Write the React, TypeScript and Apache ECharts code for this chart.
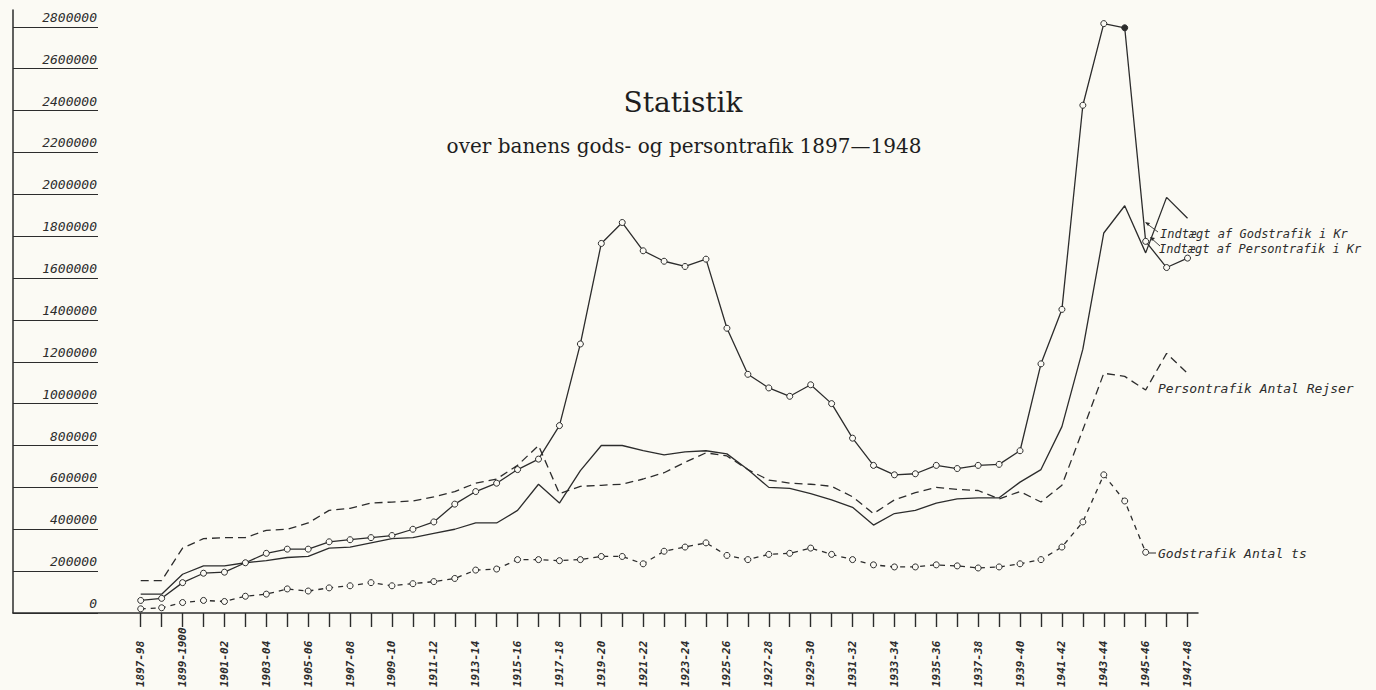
import React, { useEffect, useRef } from "react";
import * as echarts from "echarts";

const categories = [
  "1897-98", "1898-99", "1899-1900", "1900-01", "1901-02", "1902-03", "1903-04", "1904-05",
  "1905-06", "1906-07", "1907-08", "1908-09", "1909-10", "1910-11", "1911-12", "1912-13",
  "1913-14", "1914-15", "1915-16", "1916-17", "1917-18", "1918-19", "1919-20", "1920-21",
  "1921-22", "1922-23", "1923-24", "1924-25", "1925-26", "1926-27", "1927-28", "1928-29",
  "1929-30", "1930-31", "1931-32", "1932-33", "1933-34", "1934-35", "1935-36", "1936-37",
  "1937-38", "1938-39", "1939-40", "1940-41", "1941-42", "1942-43", "1943-44", "1944-45",
  "1945-46", "1946-47", "1947-48",
];

// Indtægt af Godstrafik i Kr (solid line with circles)
const godsKr = [
  60000, 70000, 145000, 190000, 195000, 240000, 285000, 305000, 305000, 340000,
  350000, 360000, 370000, 400000, 435000, 520000, 580000, 620000, 685000, 735000,
  895000, 1285000, 1765000, 1865000, 1730000, 1680000, 1655000, 1690000, 1360000, 1140000,
  1075000, 1035000, 1090000, 1000000, 835000, 705000, 660000, 665000, 705000, 690000,
  705000, 710000, 775000, 1190000, 1450000, 2425000, 2815000, 2795000, 1775000, 1650000,
  1695000,
];

// Indtægt af Persontrafik i Kr (solid line)
const personKr = [
  90000, 90000, 185000, 225000, 225000, 240000, 250000, 265000, 270000, 310000,
  315000, 335000, 355000, 360000, 380000, 400000, 430000, 430000, 490000, 615000,
  525000, 680000, 800000, 800000, 775000, 755000, 770000, 775000, 760000, 685000,
  600000, 595000, 570000, 540000, 505000, 420000, 475000, 490000, 525000, 545000,
  550000, 550000, 625000, 685000, 890000, 1260000, 1815000, 1945000, 1720000, 1985000,
  1885000,
];

// Persontrafik Antal Rejser (dashed line)
const personAntal = [
  155000, 155000, 310000, 355000, 360000, 360000, 395000, 400000, 430000, 490000,
  500000, 525000, 530000, 535000, 555000, 580000, 620000, 640000, 705000, 800000,
  570000, 605000, 610000, 615000, 640000, 670000, 720000, 765000, 750000, 685000,
  635000, 620000, 615000, 605000, 555000, 475000, 540000, 575000, 600000, 590000,
  585000, 545000, 580000, 530000, 610000, 875000, 1145000, 1130000, 1065000, 1240000,
  1145000,
];

// Godstrafik Antal ts (dashed line with circles)
const godsTs = [
  20000, 25000, 50000, 60000, 55000, 80000, 90000, 115000, 105000, 120000,
  130000, 145000, 130000, 140000, 150000, 165000, 205000, 210000, 255000, 255000,
  250000, 255000, 270000, 270000, 235000, 295000, 315000, 335000, 275000, 255000,
  280000, 285000, 310000, 280000, 255000, 230000, 220000, 220000, 230000, 225000,
  215000, 220000, 235000, 255000, 315000, 435000, 660000, 535000, 290000, null,
  null,
];

const yTicks = [
  0, 200000, 400000, 600000, 800000, 1000000, 1200000, 1400000,
  1600000, 1800000, 2000000, 2200000, 2400000, 2600000, 2800000,
];

const ink = "#2c2c2c";
const paper = "#fbfaf4";
const hand = "'DejaVu Sans Mono', monospace";
const serif = "'DejaVu Serif', serif";

const tickIdx = categories.map((_, i) => i);
const labelIdx = categories.map((_, i) => i).filter((i) => i % 2 === 0);

function toData(arr: (number | null)[], filled?: number) {
  const out: any[] = [];
  arr.forEach((v, i) => {
    if (v === null) return;
    if (filled === i) out.push({ value: [i, v], itemStyle: { color: ink } });
    else out.push([i, v]);
  });
  return out;
}

export default function App() {
  const ref = useRef<HTMLDivElement>(null);
  useEffect(() => {
    document.body.style.margin = "0";
    document.body.style.background = paper;
    const chart = echarts.init(ref.current!, undefined, { renderer: "svg" });
    const markerStyle = { color: paper, borderColor: ink, borderWidth: 1 };
    const option: any = {
      animation: false,
      backgroundColor: paper,
      grid: { left: 13, right: 178, top: 10, bottom: 77, containLabel: false },
      xAxis: {
        type: "value",
        min: -6.1,
        max: 50.5,
        splitLine: { show: false },
        axisLine: { show: true, onZero: false, lineStyle: { color: ink, width: 1.5 } },
        axisTick: { show: true, length: 14, customValues: tickIdx, lineStyle: { color: ink, width: 1.4 } },
        axisLabel: {
          customValues: labelIdx,
          formatter: (v: number) => categories[Math.round(v)] ?? "",
          rotate: 90,
          align: "left",
          verticalAlign: "middle",
          margin: 74,
          fontFamily: hand,
          fontStyle: "italic",
          fontWeight: "bold",
          fontSize: 11,
          color: ink,
        },
      },
      yAxis: {
        type: "value",
        min: 0,
        max: 2880000,
        splitLine: { show: false },
        axisLine: { show: true, onZero: false, lineStyle: { color: ink, width: 1.5 } },
        axisTick: { show: true, inside: true, length: 85, customValues: yTicks, lineStyle: { color: ink, width: 1.2 } },
        axisLabel: {
          inside: true,
          customValues: yTicks,
          formatter: (v: number) => String(v),
          align: "right",
          verticalAlign: "bottom",
          margin: 84,
          padding: [0, 0, 3, 0],
          fontFamily: hand,
          fontStyle: "italic",
          fontSize: 13,
          color: ink,
        },
      },
      series: [
        {
          name: "Indtægt af Godstrafik i Kr",
          type: "line",
          data: toData(godsKr, 47),
          symbol: "circle",
          symbolSize: 6,
          itemStyle: markerStyle,
          lineStyle: { color: ink, width: 1.3 },
          emphasis: { disabled: true },
          z: 4,
        },
        {
          name: "Indtægt af Persontrafik i Kr",
          type: "line",
          data: toData(personKr),
          symbol: "none",
          lineStyle: { color: ink, width: 1.3 },
          emphasis: { disabled: true },
          z: 3,
        },
        {
          name: "Persontrafik Antal Rejser",
          type: "line",
          data: toData(personAntal),
          symbol: "none",
          lineStyle: { color: ink, width: 1.3, type: [8, 5] },
          emphasis: { disabled: true },
          z: 3,
        },
        {
          name: "Godstrafik Antal ts",
          type: "line",
          data: toData(godsTs),
          symbol: "circle",
          symbolSize: 6,
          itemStyle: markerStyle,
          lineStyle: { color: ink, width: 1.3, type: [5, 5] },
          emphasis: { disabled: true },
          z: 4,
        },
      ],
      graphic: [
        {
          type: "text",
          x: 683,
          y: 102,
          style: { text: "Statistik", font: `28px ${serif}`, fill: "#1e1e1e", align: "center", verticalAlign: "middle" },
        },
        {
          type: "text",
          x: 684,
          y: 146,
          style: {
            text: "over banens gods- og persontrafik 1897—1948",
            font: `20px ${serif}`,
            fill: "#1e1e1e",
            align: "center",
            verticalAlign: "middle",
          },
        },
        {
          type: "text",
          x: 1160,
          y: 234,
          style: { text: "Indtægt af Godstrafik i Kr", font: `italic 12px ${hand}`, fill: ink, align: "left", verticalAlign: "middle" },
        },
        {
          type: "text",
          x: 1159,
          y: 249,
          style: { text: "Indtægt af Persontrafik i Kr", font: `italic 12px ${hand}`, fill: ink, align: "left", verticalAlign: "middle" },
        },
        {
          type: "text",
          x: 1158,
          y: 388,
          style: { text: "Persontrafik Antal Rejser", font: `italic 13px ${hand}`, fill: ink, align: "left", verticalAlign: "middle" },
        },
        {
          type: "text",
          x: 1158,
          y: 553,
          style: { text: "Godstrafik Antal ts", font: `italic 13px ${hand}`, fill: ink, align: "left", verticalAlign: "middle" },
        },
        { type: "line", shape: { x1: 1158, y1: 232, x2: 1146, y2: 223 }, style: { stroke: ink, lineWidth: 0.9 } },
        { type: "polygon", shape: { points: [[1145, 222], [1150, 223], [1148, 226]] }, style: { fill: ink } },
        { type: "line", shape: { x1: 1160, y1: 246, x2: 1151, y2: 238 }, style: { stroke: ink, lineWidth: 0.9 } },
        { type: "polygon", shape: { points: [[1150, 237], [1155, 238], [1152, 241]] }, style: { fill: ink } },
        { type: "line", shape: { x1: 1149, y1: 553, x2: 1156, y2: 553 }, style: { stroke: ink, lineWidth: 1 } },
      ],
    };
    chart.setOption(option);
    return () => chart.dispose();
  }, []);
  return <div ref={ref} style={{ width: 1376, height: 690, background: paper }} />;
}
